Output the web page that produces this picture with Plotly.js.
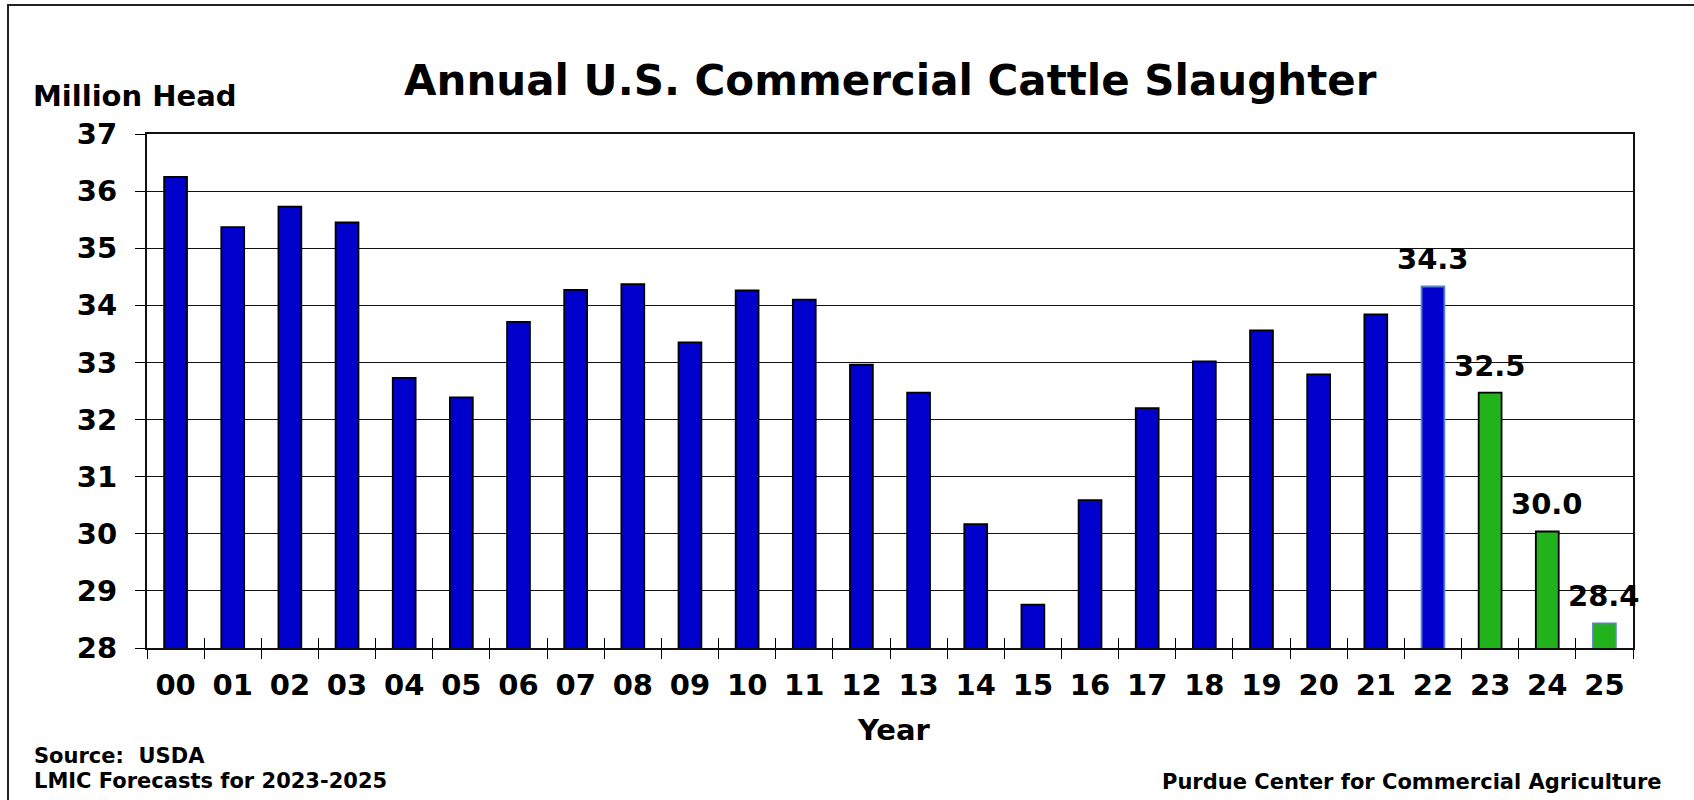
<!DOCTYPE html>
<html>
<head>
<meta charset="utf-8">
<script src="https://cdn.plot.ly/plotly-3.0.1.min.js"></script>
<style>
  html, body { margin: 0; padding: 0; background: #fff; }
  #chart { width: 1694px; height: 800px; }
</style>
</head>
<body>
<div id="chart"></div>
<script>
// ---- data ----
const years = ['00','01','02','03','04','05','06','07','08','09','10','11','12',
               '13','14','15','16','17','18','19','20','21','22','23','24','25'];
const slaughter = [36.25, 35.37, 35.73, 35.45, 32.73, 32.39, 33.71, 34.27, 34.37, 33.35,
                   34.26, 34.10, 32.96, 32.47, 30.17, 28.76, 30.59, 32.20, 33.02, 33.56,
                   32.79, 33.84, 34.33, 32.47, 30.04, 28.43];
const forecastYears = ['23','24','25'];
const labelYears = ['22','23','24','25'];
const labelValues = [34.3, 32.5, 30.0, 28.4];
const outlinedYears = ['22','25'];
const yTicks = [28, 29, 30, 31, 32, 33, 34, 35, 36, 37];

// ---- styles ----
const FONT = 'DejaVu Sans, Verdana, sans-serif';
const BLUE = '#0000CC';
const GREEN = '#22B31C';
const SOFT_OUTLINE = '#5A82C4';

const L = 147, R = 1633, T = 134, B = 648;
const W = 1694, H = 800;
const px = x => (x - L) / (R - L);
const py = y => (B - y) / (B - T);

const barColors = years.map(y => forecastYears.includes(y) ? GREEN : BLUE);
const lineColors = years.map(y => outlinedYears.includes(y) ? SOFT_OUTLINE : '#000');

const traces = [
  {
    type: 'bar',
    x: years,
    y: slaughter,
    width: 0.4,
    marker: { color: barColors, line: { color: lineColors, width: 1.8 } },
    hoverinfo: 'x+y',
    showlegend: false
  },
  {
    type: 'scatter', x: [], y: [], xaxis: 'x2', yaxis: 'y',
    showlegend: false, hoverinfo: 'skip'
  }
];

const annotations = [
  { text: '<b>Annual U.S. Commercial Cattle Slaughter</b>', xref: 'paper', yref: 'paper',
    x: px(891), y: py(107), xanchor: 'center', yanchor: 'bottom', showarrow: false,
    font: { family: FONT, size: 42, color: '#000' } },
  { text: '<b>Million Head</b>', xref: 'paper', yref: 'paper',
    x: px(31), y: py(115), xanchor: 'left', yanchor: 'bottom', showarrow: false,
    font: { family: FONT, size: 29, color: '#000' } },
  { text: '<b>Year</b>', xref: 'paper', yref: 'paper',
    x: px(894), y: py(749), xanchor: 'center', yanchor: 'bottom', showarrow: false,
    font: { family: FONT, size: 29, color: '#000' } },
  { text: '<b>Source:\u00A0 USDA</b>', xref: 'paper', yref: 'paper',
    x: px(32), y: py(770), xanchor: 'left', yanchor: 'bottom', showarrow: false,
    font: { family: FONT, size: 21, color: '#000' } },
  { text: '<b>LMIC Forecasts for 2023-2025</b>', xref: 'paper', yref: 'paper',
    x: px(32), y: py(795), xanchor: 'left', yanchor: 'bottom', showarrow: false,
    font: { family: FONT, size: 21, color: '#000' } },
  { text: '<b>Purdue Center for Commercial Agriculture</b>', xref: 'paper', yref: 'paper',
    x: px(1664), y: py(796), xanchor: 'right', yanchor: 'bottom', showarrow: false,
    font: { family: FONT, size: 21, color: '#000' } }
];

labelYears.forEach((yr, i) => {
  annotations.push({
    text: '<b>' + labelValues[i].toFixed(1) + '</b>',
    x: yr, y: slaughter[years.indexOf(yr)], xref: 'x', yref: 'y',
    xanchor: 'center', yanchor: 'bottom', yshift: 8, showarrow: false,
    font: { family: FONT, size: 29, color: '#000' }
  });
});

const layout = {
  width: W, height: H,
  margin: { l: L, r: W - R, t: T, b: H - B, pad: 0 },
  paper_bgcolor: '#fff',
  plot_bgcolor: '#fff',
  xaxis: {
    type: 'category',
    categoryorder: 'array', categoryarray: years,
    range: [-0.5, 25.5],
    tickson: 'boundaries',
    ticks: 'outside', ticklen: 9, tickwidth: 1, tickcolor: '#000',
    showgrid: false,
    showline: true, linecolor: '#111', linewidth: 2, mirror: true,
    tickfont: { family: FONT, size: 29, color: '#000', weight: 'bold' },
    ticklabelstandoff: 10,
    fixedrange: true
  },
  xaxis2: {
    overlaying: 'x', type: 'linear',
    range: [-0.5, 25.5], tick0: -0.5, dtick: 1,
    ticks: 'inside', ticklen: 10, tickwidth: 1, tickcolor: '#000',
    showticklabels: false, showgrid: false, zeroline: false, showline: false,
    anchor: 'y', side: 'bottom', fixedrange: true
  },
  yaxis: {
    range: [28, 37],
    tickvals: yTicks,
    ticks: 'outside', ticklen: 10, tickwidth: 1, tickcolor: '#000',
    showgrid: true, gridcolor: '#111', gridwidth: 1,
    zeroline: false,
    showline: true, linecolor: '#111', linewidth: 2, mirror: true,
    tickfont: { family: FONT, size: 29, color: '#000', weight: 'bold' },
    ticklabelstandoff: 12,
    fixedrange: true
  },
  shapes: [
    { type: 'rect', xref: 'paper', yref: 'paper',
      x0: px(8), x1: px(1720), y0: py(5), y1: py(830),
      line: { color: '#222', width: 2 }, fillcolor: 'rgba(0,0,0,0)', layer: 'below' }
  ],
  annotations: annotations,
  showlegend: false
};

Plotly.newPlot('chart', traces, layout, { displayModeBar: false, staticPlot: true });
</script>
</body>
</html>
